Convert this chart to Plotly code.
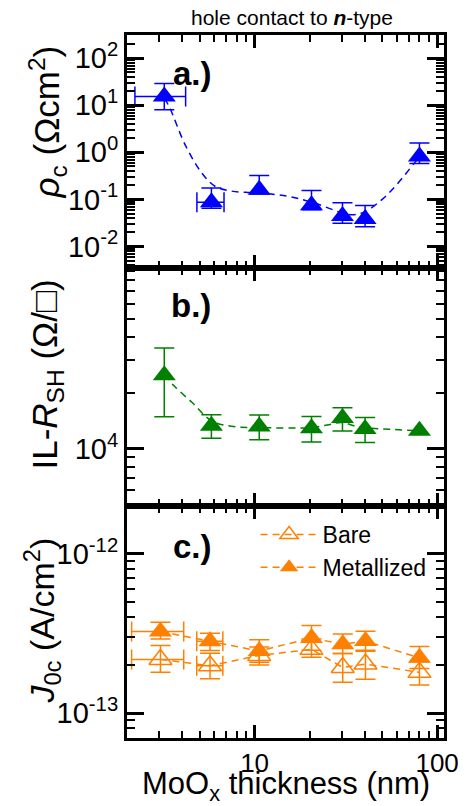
import plotly.graph_objects as go
from plotly.subplots import make_subplots

# ---------------- data ----------------
thickness = [3.2, 5.8, 10.6, 20.5, 30.3, 40.3, 80]
rho_c = [15.4, 0.087, 0.16, 0.075, 0.044, 0.038, 0.82]
rho_c_err_plus = [13.6, 0.088, 0.16, 0.079, 0.041, 0.036, 0.76]
rho_c_err_minus = [7.4, 0.022, 0.03, 0.015, 0.013, 0.012, 0.24]
thick_xerr_pts = [3.2, 5.8]
rho_c_xerr_pts = [15.4, 0.087]
thick_err_plus = [0.99, 1.0]
thick_err_minus = [0.99, 0.97]

rho_fit_x = [3.2, 3.4, 4.2, 5.15, 6.07, 7.46, 10, 15, 21, 30, 35, 40.5, 50, 59, 75, 80]
rho_fit_y = [14, 9.5, 1.35, 0.36, 0.19, 0.15, 0.138, 0.117, 0.085, 0.052, 0.047, 0.055, 0.1, 0.19, 0.59, 0.8]

rsh = [24800, 13300, 13170, 12900, 14620, 12770, 12510]
rsh_err_x = [3.2, 5.8, 10.6, 20.5, 30.3, 40.3]
rsh_err_y = [24800, 13300, 13170, 12900, 14620, 12770]
rsh_err_plus = [9900, 1920, 2030, 1980, 1960, 1930]
rsh_err_minus = [9940, 1910, 1990, 2040, 2150, 1970]
rsh_fit_x = [3.2, 3.63, 4.55, 5.82, 7.46, 10.2, 20, 25, 30, 35, 40, 80]
rsh_fit_y = [25000, 21700, 17700, 14100, 13200, 13000, 13000, 13400, 13850, 13300, 13000, 12500]

thickness_c = [3.05, 5.7, 10.6, 20.5, 30.4, 40.5, 80]
j0c_bare = [2.17e-13, 1.98e-13, 2.3e-13, 2.51e-13, 1.93e-13, 2.03e-13, 1.8e-13]
j0c_bare_plus = [0.48e-13, 0.39e-13, 0.3e-13, 0.41e-13, 0.43e-13, 0.45e-13, 0.3e-13]
j0c_bare_minus = [0.37e-13, 0.34e-13, 0.3e-13, 0.27e-13, 0.37e-13, 0.4e-13, 0.3e-13]
j0c_met = [3.25e-13, 2.82e-13, 2.45e-13, 2.96e-13, 2.7e-13, 2.83e-13, 2.22e-13]
j0c_met_plus = [0.46e-13, 0.35e-13, 0.43e-13, 0.59e-13, 0.43e-13, 0.43e-13, 0.4e-13]
j0c_met_minus = [0.33e-13, 0.35e-13, 0.37e-13, 0.48e-13, 0.34e-13, 0.39e-13, 0.32e-13]
thick_c_xerr = [3.05, 5.7]
thick_c_err_plus = [1.04, 1.0]
thick_c_err_minus = [0.93, 0.88]

x_ticks = [10, 100]
x_ticktext = ["10", "100"]
ya_ticks = [1e-2, 1e-1, 1, 10, 100]
ya_ticktext = ["10<sup>-2</sup>", "10<sup>-1</sup>", "10<sup>0</sup>", "10<sup>1</sup>", "10<sup>2</sup>"]
yb_ticks = [1e4]
yb_ticktext = ["10<sup>4</sup>"]
yc_ticks = [1e-13, 1e-12]
yc_ticktext = ["10<sup>-13</sup>", "10<sup>-12</sup>"]

BLUE = "#0000ff"
GREEN = "#008000"
ORANGE = "#ff8000"
FONT = "Liberation Sans, Arial, sans-serif"
DASH = "7px,5px"

fig = make_subplots(rows=3, cols=1, shared_xaxes=True, vertical_spacing=0)

def err_trace(x, y, color, row, ey=None, eym=None, ex=None, exm=None):
    kw = {}
    if ey is not None:
        kw["error_y"] = dict(type="data", symmetric=False, array=ey, arrayminus=eym,
                             color=color, thickness=1.5, width=10)
    if ex is not None:
        kw["error_x"] = dict(type="data", symmetric=False, array=ex, arrayminus=exm,
                             color=color, thickness=1.5, width=10)
    fig.add_trace(go.Scatter(x=x, y=y, mode="markers", marker=dict(size=2, opacity=0),
                             showlegend=False, hoverinfo="skip", **kw), row=row, col=1)

# panel a
fig.add_trace(go.Scatter(x=rho_fit_x, y=rho_fit_y, mode="lines", line=dict(color=BLUE, width=1.5, dash=DASH, shape="spline"),
                         showlegend=False), row=1, col=1)
err_trace(thickness, rho_c, BLUE, 1, ey=rho_c_err_plus, eym=rho_c_err_minus)
err_trace(thick_xerr_pts, rho_c_xerr_pts, BLUE, 1, ex=thick_err_plus, exm=thick_err_minus)
fig.add_trace(go.Scatter(x=thickness, y=rho_c, mode="markers", marker=dict(symbol="triangle-up", size=20, color=BLUE),
                         showlegend=False), row=1, col=1)

# panel b
fig.add_trace(go.Scatter(x=rsh_fit_x, y=rsh_fit_y, mode="lines", line=dict(color=GREEN, width=1.5, dash=DASH, shape="spline"),
                         showlegend=False), row=2, col=1)
err_trace(rsh_err_x, rsh_err_y, GREEN, 2, ey=rsh_err_plus, eym=rsh_err_minus)
fig.add_trace(go.Scatter(x=thickness, y=rsh, mode="markers", marker=dict(symbol="triangle-up", size=20, color=GREEN),
                         showlegend=False), row=2, col=1)

# panel c
err_trace(thickness_c, j0c_bare, ORANGE, 3, ey=j0c_bare_plus, eym=j0c_bare_minus)
err_trace(thickness_c, j0c_met, ORANGE, 3, ey=j0c_met_plus, eym=j0c_met_minus)
err_trace(thick_c_xerr, j0c_bare[:2], ORANGE, 3, ex=thick_c_err_plus, exm=thick_c_err_minus)
err_trace(thick_c_xerr, j0c_met[:2], ORANGE, 3, ex=thick_c_err_plus, exm=thick_c_err_minus)
fig.add_trace(go.Scatter(x=thickness_c, y=j0c_bare, mode="lines+markers", name="Bare",
                         line=dict(color=ORANGE, width=1.5, dash=DASH),
                         marker=dict(symbol="triangle-up-open", size=20, color=ORANGE, line=dict(width=1.5, color=ORANGE))),
              row=3, col=1)
fig.add_trace(go.Scatter(x=thickness_c, y=j0c_met, mode="lines+markers", name="Metallized",
                         line=dict(color=ORANGE, width=1.5, dash=DASH),
                         marker=dict(symbol="triangle-up", size=20, color=ORANGE)),
              row=3, col=1)

# ---------------- axes ----------------
L, R, T, B = 127, 21, 35, 68
W, H = 471, 806
PW = W - L - R
ph = H - T - B
def py(p):  # pixel y -> paper
    return (H - B - p) / ph
def px(p):
    return (p - L) / PW

def minors(decs):
    out = []
    for d in decs:
        for m in range(2, 10):
            out.append(m * 10.0 ** d)
    return out

x_minor = minors([0, 1])
XR = [0.301, 2.0376]
panels = [
    dict(rng=[-2.46, 2.495], tv=ya_ticks, tt=ya_ticktext, mv=minors(range(-3, 3)), dom=[py(268), 1.0]),
    dict(rng=[3.693, 4.97], tv=yb_ticks, tt=yb_ticktext, mv=minors([3, 4]), dom=[py(506), py(268)]),
    dict(rng=[-13.157, -11.70], tv=yc_ticks, tt=yc_ticktext, mv=minors([-14, -13, -12]), dom=[0.0, py(506)]),
]

for i, p in enumerate(panels, start=1):
    sfx = "" if i == 1 else str(i)
    fig.layout["yaxis" + sfx].update(
        type="log", range=p["rng"], domain=p["dom"], anchor="x" + sfx,
        showline=True, linewidth=3, linecolor="black", mirror="ticks",
        ticks="inside", ticklen=17, tickwidth=3, tickcolor="black", showgrid=False, zeroline=False,
        tickmode="array", tickvals=p["tv"], ticktext=p["tt"],
        minor=dict(ticks="inside", ticklen=8, tickwidth=2, tickcolor="black", tickvals=p["mv"], showgrid=False),
        tickfont=dict(family=FONT, size=29, color="black"))
    fig.layout["xaxis" + sfx].update(
        type="log", range=XR, anchor="y" + sfx,
        showline=True, linewidth=3, linecolor="black", mirror="ticks",
        ticks="inside", ticklen=13, tickwidth=3, tickcolor="black", tickmode="array", tickvals=x_ticks,
        ticktext=x_ticktext, showgrid=False, zeroline=False, showticklabels=(i == 3),
        minor=dict(ticks="inside", ticklen=7, tickwidth=2, tickcolor="black", tickvals=x_minor, showgrid=False),
        tickfont=dict(family=FONT, size=26, color="black"))

ann = []
def A(text, x, y, size, angle=0, xanchor="center", yanchor="middle"):
    ann.append(dict(text=text, x=x, y=y, xref="paper", yref="paper", showarrow=False, textangle=angle,
                    xanchor=xanchor, yanchor=yanchor, font=dict(family=FONT, size=size, color="black")))

A("<i>ρ</i><sub>c</sub> (Ωcm<sup>2</sup>)", px(45), py(122), 35, angle=-90)
A("IL-<i>R</i><sub>SH</sub> (Ω/□)", px(45), py(375), 35, angle=-90)
A("<i>J</i><sub>0c</sub> (A/cm<sup>2</sup>)", px(40), py(621), 34, angle=-90)
A("MoO<sub>x</sub> thickness (nm)", 0.5, py(786), 31)
A("hole contact to <b><i>n</i></b>-type", px(295), py(17), 21)
A("<b>a.)</b>", px(172), py(74), 33, xanchor="left")
A("<b>b.)</b>", px(170), py(305), 33, xanchor="left")
A("<b>c.)</b>", px(172), py(546), 33, xanchor="left")

fig.update_layout(
    width=W, height=H, margin=dict(l=L, r=R, t=T, b=B),
    paper_bgcolor="white", plot_bgcolor="white",
    font=dict(family=FONT, color="black"),
    annotations=ann,
    legend=dict(x=px(258), y=py(513), xanchor="left", yanchor="top", bgcolor="rgba(0,0,0,0)",
                font=dict(family=FONT, size=23, color="black"), itemwidth=57, tracegroupgap=0),
    showlegend=True,
)

fig.write_html("out.html")
